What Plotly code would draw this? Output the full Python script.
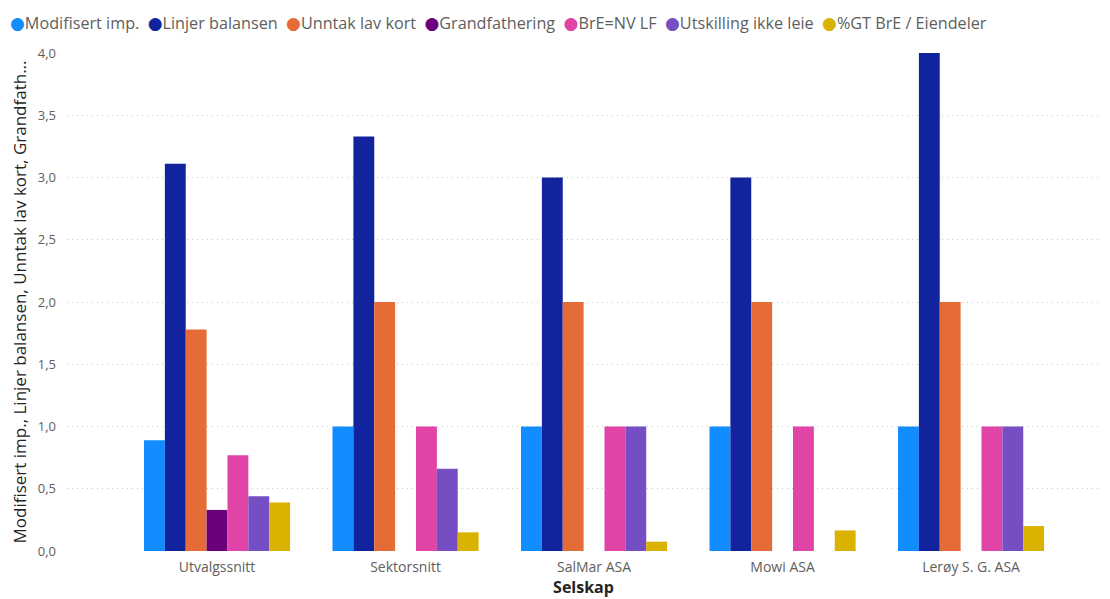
import plotly.graph_objects as go

categories = ["Utvalgssnitt", "Sektorsnitt", "SalMar ASA", "Mowi ASA", "Lerøy S. G. ASA"]

series_names = ["Modifisert imp.", "Linjer balansen", "Unntak lav kort", "Grandfathering",
                "BrE=NV LF", "Utskilling ikke leie", "%GT BrE / Eiendeler"]
series_colors = ["#118DFF", "#12239E", "#E66C37", "#6B007B", "#E044A7", "#744EC2", "#D9B300"]

modifisert_imp = [0.89, 1.0, 1.0, 1.0, 1.0]
linjer_balansen = [3.11, 3.33, 3.0, 3.0, 4.0]
unntak_lav_kort = [1.78, 2.0, 2.0, 2.0, 2.0]
grandfathering = [0.33, None, None, None, None]
bre_nv_lf = [0.77, 1.0, 1.0, 1.0, 1.0]
utskilling_ikke_leie = [0.44, 0.66, 1.0, None, 1.0]
gt_bre_eiendeler = [0.39, 0.15, 0.075, 0.165, 0.2]

series_values = [modifisert_imp, linjer_balansen, unntak_lav_kort, grandfathering,
                 bre_nv_lf, utskilling_ikke_leie, gt_bre_eiendeler]

y_ticks = [0, 0.5, 1.0, 1.5, 2.0, 2.5, 3.0, 3.5, 4.0]

FONT = "Open Sans, Noto Sans, sans-serif"

fig = go.Figure()
for name, color, vals in zip(series_names, series_colors, series_values):
    fig.add_trace(go.Bar(x=categories, y=vals, name=name, marker_color=color,
                         marker_line_width=0, showlegend=False))

legend_text = "&nbsp;&nbsp;".join(
    f'<span style="color:{c}; font-family:DejaVu Sans; font-size:17px">●</span>{n}'
    for n, c in zip(series_names, series_colors)
)
fig.add_annotation(text=legend_text, xref="paper", yref="paper", x=0, y=1,
                   xanchor="left", yanchor="bottom", showarrow=False,
                   font=dict(family=FONT, size=16.2, color="#605E5C"),
                   xshift=-59, yshift=17)

fig.update_layout(
    barmode="group",
    bargap=0.225,
    bargroupgap=0,
    width=1110, height=599,
    margin=dict(l=67, r=10, t=53, b=48),
    plot_bgcolor="white", paper_bgcolor="white",
    separators=", ",
    font=dict(family=FONT, color="#605E5C"),
    xaxis=dict(
        range=[-0.796, 4.684],
        showgrid=False, showline=False, zeroline=False,
        tickfont=dict(size=14, color="#605E5C"),
        ticklabelstandoff=6,
        title=dict(text="<b>Selskap</b>", font=dict(size=16, color="#252423"), standoff=2),
        ticks="", ticklen=0,
    ),
    yaxis=dict(
        range=[0, 4.0],
        tickvals=y_ticks,
        tickformat=".1f",
        showgrid=True, gridcolor="#C8C6C4", griddash="1px,4px", gridwidth=1,
        zeroline=False, showline=False,
        tickfont=dict(size=13, color="#605E5C"),
        ticklabelstandoff=10,
        ticks="", ticklen=0,
        title=dict(text="Modifisert imp., Linjer balansen, Unntak lav kort, Grandfath...",
                   font=dict(size=17, color="#252423"), standoff=6),
    ),
)

fig.write_html("out.html")
